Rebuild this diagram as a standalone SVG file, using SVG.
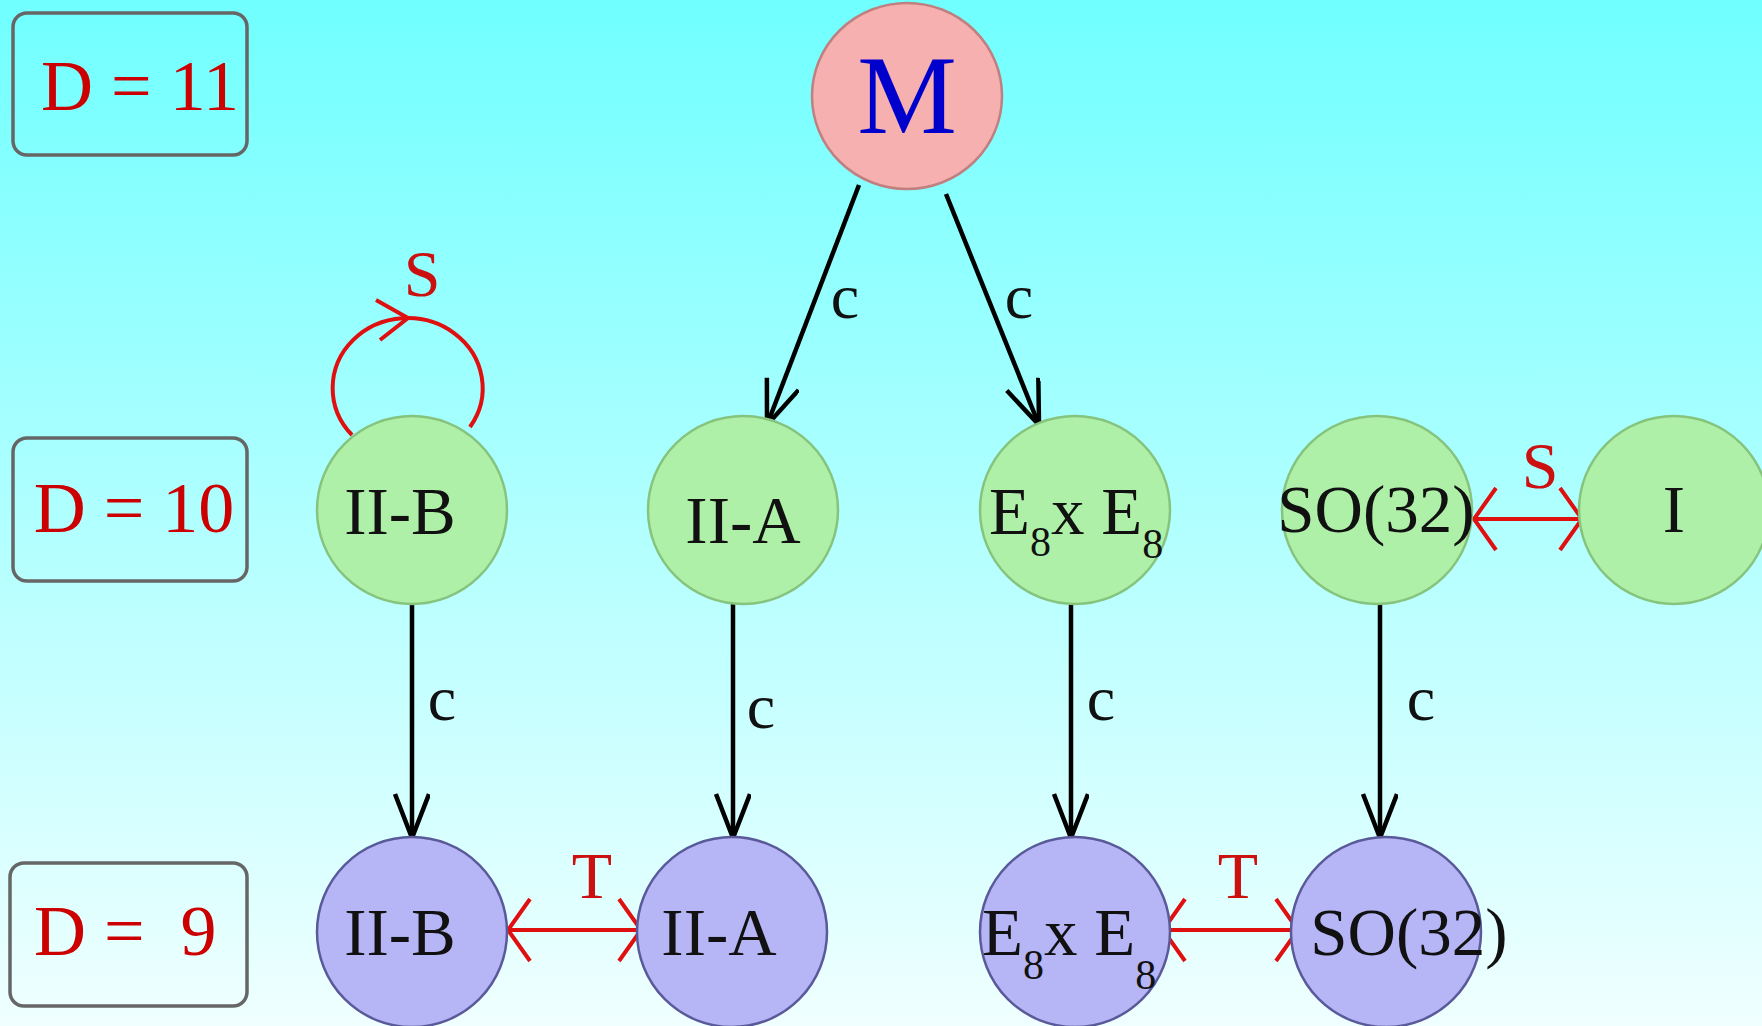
<svg xmlns="http://www.w3.org/2000/svg" width="1762" height="1026" viewBox="0 0 1762 1026">
<defs>
<linearGradient id="bg" x1="0" y1="0" x2="0" y2="1">
<stop offset="0" stop-color="#70ffff"/>
<stop offset="1" stop-color="#f0ffff"/>
</linearGradient>
<marker id="ab" markerUnits="userSpaceOnUse" markerWidth="50" markerHeight="40" refX="45" refY="18" orient="auto">
<path d="M1,1 L45,18 L1,35" fill="none" stroke="#000" stroke-width="4.5"/>
</marker>
<marker id="ar" markerUnits="userSpaceOnUse" markerWidth="30" markerHeight="70" refX="24" refY="33" orient="auto-start-reverse">
<path d="M2,2 L24,33 L2,64" fill="none" stroke="#e01010" stroke-width="4"/>
</marker>
</defs>
<style>
.box{fill:none;stroke:#666;stroke-width:3.5}
.dl{font-family:"Liberation Serif",serif;font-size:72px;fill:#cc0000}
.g{fill:#aff0a8;stroke:#86c47e;stroke-width:2.5}
.b{fill:#b6b6f6;stroke:#5a5a9a;stroke-width:2.5}
.p{fill:#f7b0b0;stroke:#c08080;stroke-width:2.5}
.t{font-family:"Liberation Serif",serif;font-size:67px;fill:#111;text-anchor:middle}
.ts{font-family:"Liberation Serif",serif;font-size:67px;fill:#111}
.c{font-family:"Liberation Serif",serif;font-size:64px;fill:#111;text-anchor:middle}
.r{font-family:"Liberation Serif",serif;font-size:66px;fill:#cc1010;text-anchor:middle}
.ka{fill:none;stroke:#000;stroke-width:4.5;marker-end:url(#ab)}
.ra{fill:none;stroke:#e01010;stroke-width:4;marker-start:url(#ar);marker-end:url(#ar)}
.rl{fill:none;stroke:#e01010;stroke-width:4}
</style>
<rect width="1762" height="1026" fill="url(#bg)"/>

<g id="d11"><rect class="box" x="13" y="13" width="234" height="142" rx="14"/><text class="dl" x="140" y="110" text-anchor="middle">D = 11</text></g>
<g id="d10"><rect class="box" x="13" y="438" width="234" height="143" rx="14"/><text class="dl" x="134" y="532" text-anchor="middle">D = 10</text></g>
<g id="d9"><rect class="box" x="10" y="863" width="237" height="143" rx="14"/><text class="dl" x="34" y="955" xml:space="preserve">D =  9</text></g>

<g id="connectors">
<line class="ka" x1="859" y1="185" x2="767" y2="425"/>
<line class="ka" x1="946" y1="194" x2="1039" y2="425"/>
<line class="ka" x1="412" y1="604" x2="412" y2="838"/>
<line class="ka" x1="733" y1="604" x2="733" y2="838"/>
<line class="ka" x1="1071" y1="604" x2="1071" y2="838"/>
<line class="ka" x1="1380" y1="604" x2="1380" y2="838"/>
<line class="ra" x1="1474" y1="519" x2="1582" y2="519"/>
<line class="ra" x1="508" y1="930" x2="641" y2="930"/>
<line class="ra" x1="1163" y1="930" x2="1298" y2="930"/>
<path class="rl" d="M352,435 A75,70 0 1 1 470,427"/>
<path class="rl" d="M376,300 L408,318 L380,340"/>
<text class="c" x="845" y="318">c</text>
<text class="c" x="1019" y="318">c</text>
<text class="c" x="442" y="720">c</text>
<text class="c" x="761" y="728">c</text>
<text class="c" x="1101" y="720">c</text>
<text class="c" x="1421" y="720">c</text>
<text class="r" x="422" y="296">S</text>
<text class="r" x="1540" y="488">S</text>
<text class="r" x="592" y="898">T</text>
<text class="r" x="1238" y="898">T</text>
</g>

<g id="M"><ellipse class="p" cx="907" cy="96" rx="95" ry="93"/><text x="907" y="133" font-family="Liberation Serif,serif" font-size="112" fill="#0000cc" text-anchor="middle">M</text></g>

<g id="IIB10"><ellipse class="g" cx="412" cy="510" rx="95" ry="94"/><text class="t" x="400" y="534">II-B</text></g>
<g id="IIA10"><ellipse class="g" cx="743" cy="510" rx="95" ry="94"/><text class="t" x="743" y="543">II-A</text></g>
<g id="E8E810"><ellipse class="g" cx="1075" cy="510" rx="95" ry="94"/><text class="ts" x="989" y="534">E<tspan dy="22" font-size="42">8</tspan><tspan dy="-22">x E</tspan><tspan dy="24" font-size="42">8</tspan></text></g>
<g id="SO3210"><ellipse class="g" cx="1377" cy="510" rx="95" ry="94"/><text class="t" x="1376" y="532">SO(32)</text></g>
<g id="I10"><ellipse class="g" cx="1674" cy="510" rx="95" ry="94"/><text class="t" x="1674" y="532">I</text></g>

<g id="IIB9"><ellipse class="b" cx="412" cy="932" rx="95" ry="95"/><text class="t" x="400" y="955">II-B</text></g>
<g id="IIA9"><ellipse class="b" cx="732" cy="932" rx="95" ry="95"/><text class="t" x="719" y="955">II-A</text></g>
<g id="E8E89"><ellipse class="b" cx="1075" cy="932" rx="95" ry="95"/><text class="ts" x="982" y="955">E<tspan dy="24" font-size="42">8</tspan><tspan dy="-24">x E</tspan><tspan dy="34" font-size="42">8</tspan></text></g>
<g id="SO329"><ellipse class="b" cx="1386" cy="932" rx="95" ry="95"/><text class="t" x="1409" y="955">SO(32)</text></g>
</svg>
